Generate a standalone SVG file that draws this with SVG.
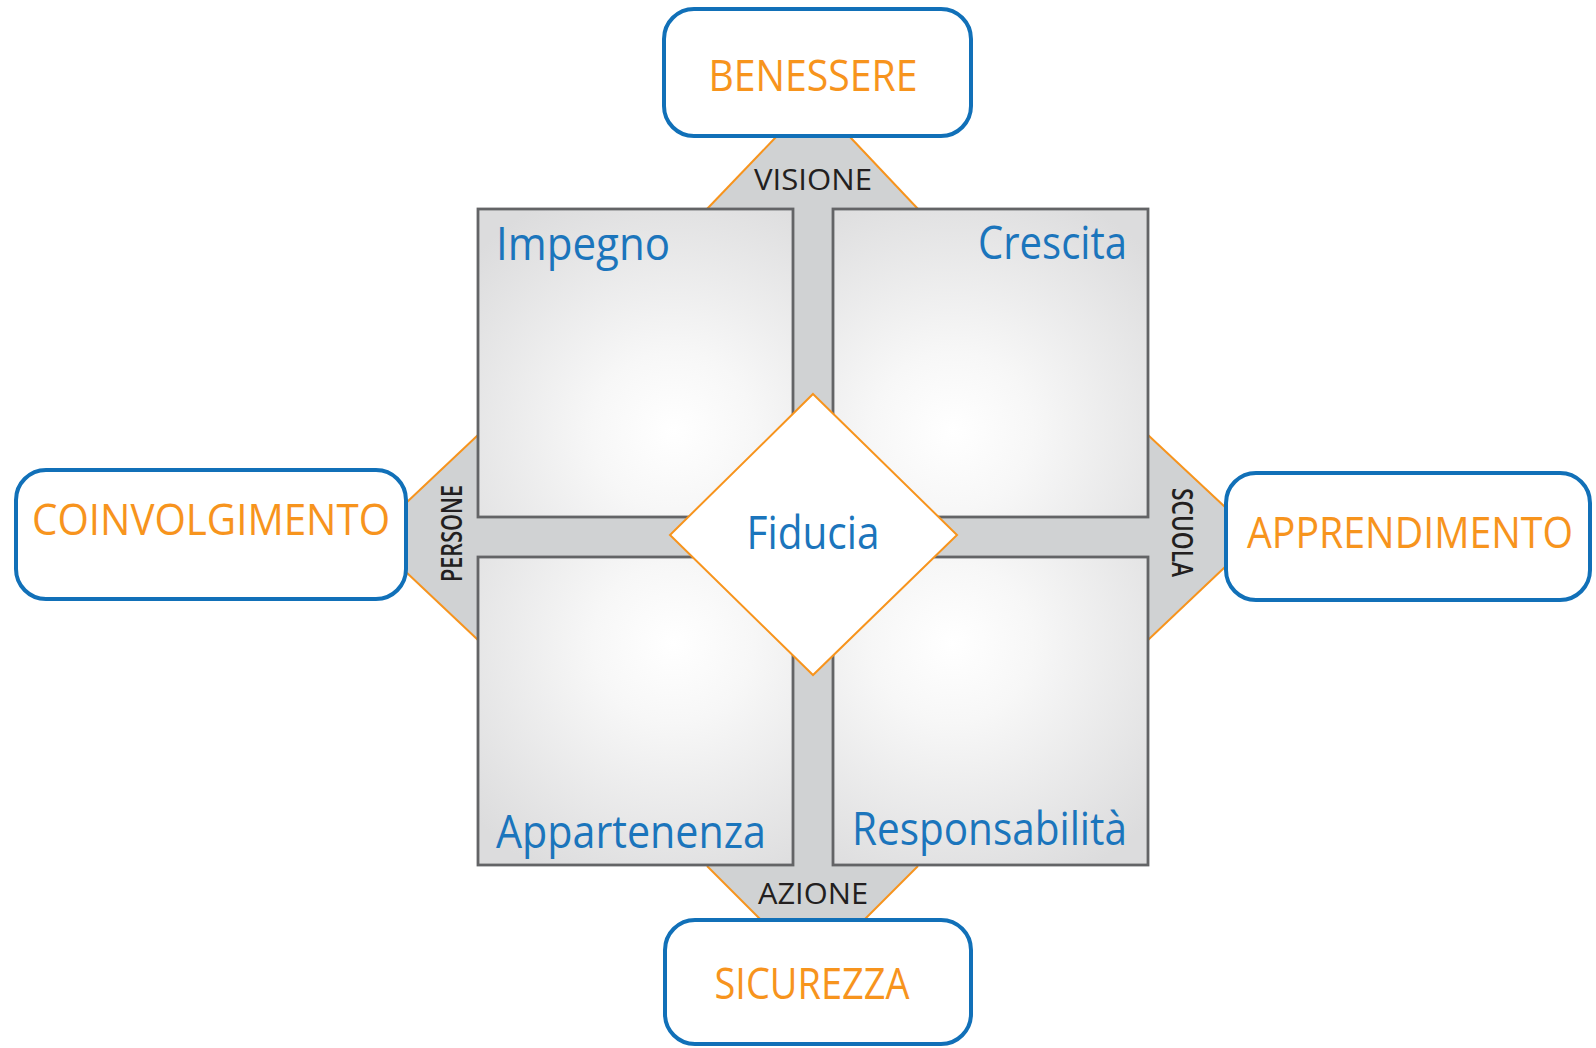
<svg xmlns="http://www.w3.org/2000/svg" width="1596" height="1048" viewBox="0 0 1596 1048">
<style>
.box{fill:#ffffff;stroke:#1170b8;stroke-width:4}
.sq{stroke:#636466;stroke-width:2.8}
.trap{fill:#d0d2d3}
.edge{stroke:#f7941d;stroke-width:2;fill:none}
.big{font-family:"Open Sans","Noto Sans",sans-serif;fill:#f7941d;font-size:43px}
.lbl{font-family:"Open Sans","Noto Sans",sans-serif;fill:#1b75bc;font-size:45px}
.axis{font-family:"Open Sans","Noto Sans",sans-serif;fill:#231f20;font-size:30px;font-weight:500}
.axs{font-family:"Open Sans","Noto Sans",sans-serif;fill:#231f20;font-size:28px;font-weight:600}
</style>
<defs>
<radialGradient id="gTL" cx="0.62" cy="0.72" r="0.85"><stop offset="0" stop-color="#ffffff"/><stop offset="0.3" stop-color="#f7f7f7"/><stop offset="1" stop-color="#dcdcdd"/></radialGradient>
<radialGradient id="gTR" cx="0.38" cy="0.72" r="0.85"><stop offset="0" stop-color="#ffffff"/><stop offset="0.3" stop-color="#f7f7f7"/><stop offset="1" stop-color="#dcdcdd"/></radialGradient>
<radialGradient id="gBL" cx="0.62" cy="0.28" r="0.85"><stop offset="0" stop-color="#ffffff"/><stop offset="0.3" stop-color="#f7f7f7"/><stop offset="1" stop-color="#dcdcdd"/></radialGradient>
<radialGradient id="gBR" cx="0.38" cy="0.28" r="0.85"><stop offset="0" stop-color="#ffffff"/><stop offset="0.3" stop-color="#f7f7f7"/><stop offset="1" stop-color="#dcdcdd"/></radialGradient>
</defs>
<rect width="1596" height="1048" fill="#ffffff"/>
<g id="connectors">
<rect x="478" y="209" width="670" height="657" class="trap"/>
<g id="visione">
<polygon class="trap" points="776,136 850,136 918,209 707,209"/>
<line class="edge" x1="776" y1="137" x2="707" y2="209"/>
<line class="edge" x1="850" y1="137" x2="918" y2="209"/>
<text class="axis" x="813" y="190" text-anchor="middle" textLength="118" lengthAdjust="spacingAndGlyphs">VISIONE</text>
</g>
<g id="azione">
<polygon class="trap" points="707,866 918,866 865,920 760,920"/>
<line class="edge" x1="707" y1="866" x2="760" y2="919"/>
<line class="edge" x1="918" y1="866" x2="865" y2="919"/>
<text class="axis" x="813" y="904" text-anchor="middle" textLength="110" lengthAdjust="spacingAndGlyphs">AZIONE</text>
</g>
<g id="persone">
<polygon class="trap" points="405,503 478,435 478,640 405,572"/>
<line class="edge" x1="406" y1="503" x2="478" y2="435"/>
<line class="edge" x1="406" y1="572" x2="478" y2="640"/>
<text class="axs" transform="translate(462,533.5) rotate(-90)" x="0" y="0" text-anchor="middle" textLength="97" lengthAdjust="spacingAndGlyphs">PERSONE</text>
</g>
<g id="scuola">
<polygon class="trap" points="1148,435 1226,507 1226,567 1148,640"/>
<line class="edge" x1="1148" y1="435" x2="1225" y2="507"/>
<line class="edge" x1="1148" y1="640" x2="1225" y2="567"/>
<text class="axs" transform="translate(1172,532.5) rotate(90)" x="0" y="0" text-anchor="middle" textLength="89" lengthAdjust="spacingAndGlyphs">SCUOLA</text>
</g>
</g>
<g id="impegno">
<rect class="sq" x="478" y="209" width="315" height="308" fill="url(#gTL)"/>
<text class="lbl" x="496" y="260" textLength="174" lengthAdjust="spacingAndGlyphs">Impegno</text>
</g>
<g id="crescita">
<rect class="sq" x="833" y="209" width="315" height="308" fill="url(#gTR)"/>
<text class="lbl" x="978" y="259" textLength="149" lengthAdjust="spacingAndGlyphs">Crescita</text>
</g>
<g id="appartenenza">
<rect class="sq" x="478" y="557" width="315" height="308" fill="url(#gBL)"/>
<text class="lbl" x="496" y="848" textLength="270" lengthAdjust="spacingAndGlyphs">Appartenenza</text>
</g>
<g id="responsabilita">
<rect class="sq" x="833" y="557" width="315" height="308" fill="url(#gBR)"/>
<text class="lbl" x="852" y="845" textLength="275" lengthAdjust="spacingAndGlyphs">Responsabilità</text>
</g>
<g id="fiducia">
<polygon points="813,394 957,535 813,675 670,535" fill="#ffffff" stroke="#f7941d" stroke-width="2"/>
<text class="lbl" x="813" y="549" text-anchor="middle" font-size="44" textLength="133" lengthAdjust="spacingAndGlyphs">Fiducia</text>
</g>
<g id="benessere">
<rect class="box" x="664" y="9" width="307" height="127" rx="30"/>
<text class="big" x="813" y="91" text-anchor="middle" textLength="209" lengthAdjust="spacingAndGlyphs">BENESSERE</text>
</g>
<g id="coinvolgimento">
<rect class="box" x="16" y="470" width="390" height="129" rx="30"/>
<text class="big" x="211" y="535" text-anchor="middle" textLength="358" lengthAdjust="spacingAndGlyphs">COINVOLGIMENTO</text>
</g>
<g id="apprendimento">
<rect class="box" x="1226" y="473" width="364" height="127" rx="30"/>
<text class="big" x="1410" y="548" text-anchor="middle" font-size="39" textLength="326" lengthAdjust="spacingAndGlyphs">APPRENDIMENTO</text>
</g>
<g id="sicurezza">
<rect class="box" x="665" y="920" width="306" height="124" rx="30"/>
<text class="big" x="812" y="999" text-anchor="middle" textLength="195" lengthAdjust="spacingAndGlyphs">SICUREZZA</text>
</g>
</svg>
